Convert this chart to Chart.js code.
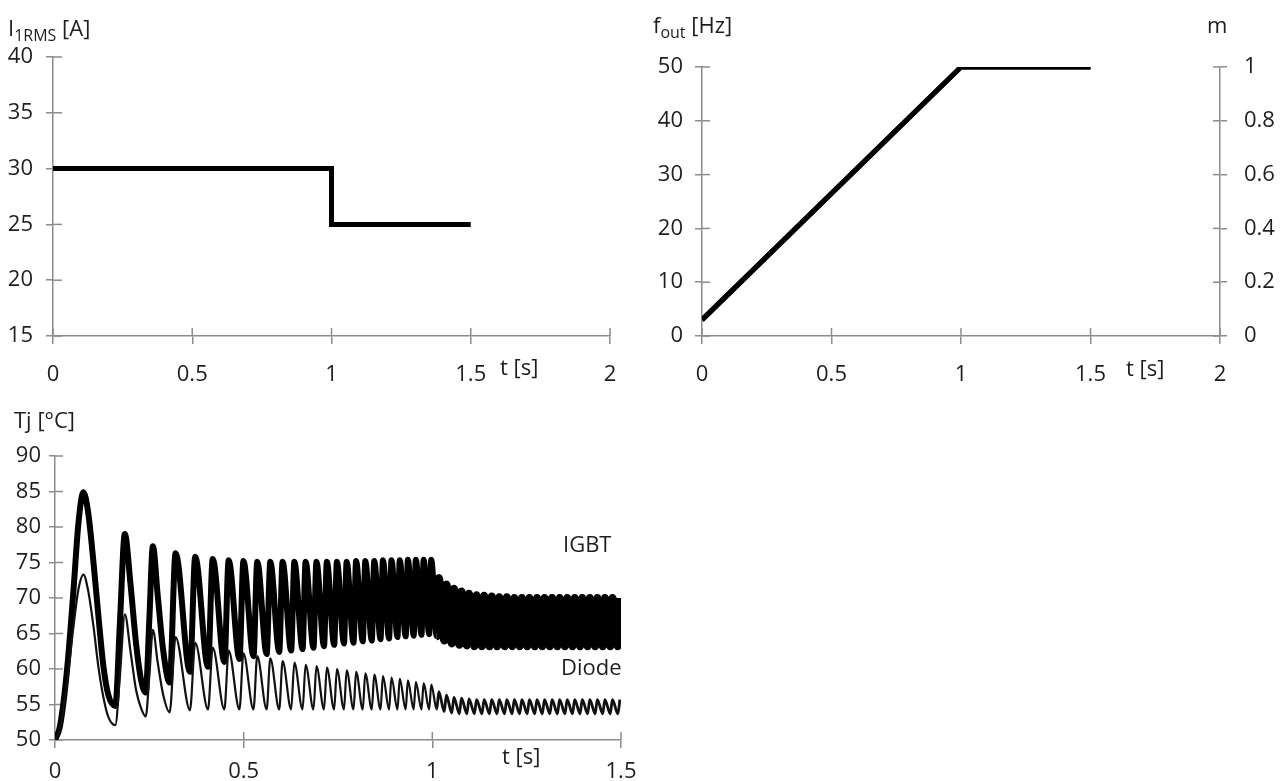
<!DOCTYPE html>
<html><head><meta charset="utf-8">
<script src="https://cdn.jsdelivr.net/npm/chart.js@4.4.1/dist/chart.umd.min.js"></script>
<style>
body{margin:0;background:#fff;width:1283px;height:781px;overflow:hidden;position:relative;font-family:"Open Sans",sans-serif;color:#1e1e1e}
canvas{position:absolute}
.lbl{position:absolute;font-size:22px;line-height:1;white-space:nowrap}
.lbl sub{font-size:16px;vertical-align:-5px;line-height:1}
</style></head><body>
<canvas id="c1" width="640" height="400" style="left:0;top:0;width:640px;height:400px"></canvas>
<canvas id="c2" width="643" height="400" style="left:640px;top:0;width:643px;height:400px"></canvas>
<canvas id="c3" width="660" height="381" style="left:0;top:400px;width:660px;height:381px"></canvas>
<div class="lbl" style="left:8px;top:16px">I<sub>1RMS</sub> [A]</div>
<div class="lbl" style="left:500px;top:355px">t [s]</div>
<div class="lbl" style="left:653px;top:13px">f<sub>out</sub> [Hz]</div>
<div class="lbl" style="left:1207px;top:13px">m</div>
<div class="lbl" style="left:1126px;top:356px">t [s]</div>
<div class="lbl" style="left:14px;top:408px">Tj [°C]</div>
<div class="lbl" style="left:502px;top:744px">t [s]</div>
<div class="lbl" style="left:563px;top:532px">IGBT</div>
<div class="lbl" style="left:561px;top:655px">Diode</div>
<script>
// ---- Panel 1: RMS current ----
const tCurrent = [0, 1, 1, 1.5];
const iRms = [30, 30, 25, 25];
// ---- Panel 2: output frequency and modulation index ----
const tFreq = [0, 1, 1.5];
const fOut = [3, 50, 50];
const mIndex = [0.06, 1, 1];
// ---- Panel 3: junction temperatures ----
const tTj = [
 0, 0.013, 0.031, 0.049, 0.062, 0.0754, 0.088, 0.102, 0.115, 0.128, 0.141, 0.1599,
 0.172, 0.1851, 0.200, 0.215, 0.228, 0.2404,
 0.250, 0.2594, 0.272, 0.287, 0.3038,
 0.3196, 0.3577, 0.3716, 0.4055, 0.4180, 0.4488, 0.4603, 0.4888, 0.4994, 0.5260, 0.5360,
 0.5610, 0.5705, 0.5942, 0.6032, 0.6258, 0.6344, 0.6560, 0.6642, 0.6850, 0.6929, 0.7129,
 0.7205, 0.7398, 0.7471, 0.7658, 0.7730, 0.7911, 0.7980, 0.8156, 0.8224, 0.8395, 0.8461,
 0.8627, 0.8691, 0.8854, 0.8917, 0.9076, 0.9137, 0.9293, 0.9352, 0.9505, 0.9563, 0.9712,
 0.9770, 0.9916, 0.9972,
 1.0116, 1.0172, 1.0316, 1.0372, 1.0516, 1.0572, 1.0716, 1.0772, 1.0916, 1.0972,
 1.1116, 1.1172, 1.1316, 1.1372, 1.1516, 1.1572, 1.1716, 1.1772, 1.1916, 1.1972,
 1.2116, 1.2172, 1.2316, 1.2372, 1.2516, 1.2572, 1.2716, 1.2772, 1.2916, 1.2972,
 1.3116, 1.3172, 1.3316, 1.3372, 1.3516, 1.3572, 1.3716, 1.3772, 1.3916, 1.3972,
 1.4116, 1.4172, 1.4316, 1.4372, 1.4516, 1.4572, 1.4716, 1.4772, 1.4916, 1.4972
];
const tjIgbt = [
 50.0, 51.9, 59.4, 71.1, 80.5, 84.9, 82.0, 75.0, 67.5, 60.5, 56.4, 54.8,
 66.5, 79.0, 72.0, 63.5, 58.5, 56.7,
 67.0, 77.3, 70.5, 62.5, 58.1,
 76.3, 59.6, 75.8, 60.3, 75.5, 61.0, 75.3, 61.4, 75.2, 61.8, 75.1,
 62.1, 75.1, 62.4, 75.1, 62.6, 75.1, 62.8, 75.1, 63.0, 75.1, 63.2,
 75.1, 63.4, 75.1, 63.6, 75.1, 63.7, 75.2, 63.9, 75.2, 64.0, 75.2,
 64.2, 75.3, 64.3, 75.3, 64.5, 75.3, 64.6, 75.4, 64.7, 75.4, 64.8,
 75.4, 64.9, 75.4,
 64.6, 72.8, 64.0, 71.9, 63.6, 71.3, 63.4, 70.9, 63.3, 70.6,
 63.2, 70.4, 63.2, 70.3, 63.2, 70.2, 63.2, 70.1, 63.2, 70.1,
 63.2, 70.0, 63.2, 70.0, 63.2, 70.0, 63.2, 70.0, 63.2, 70.0,
 63.2, 70.0, 63.2, 70.0, 63.2, 70.0, 63.2, 70.0, 63.2, 70.0,
 63.2, 70.0, 63.2, 70.0, 63.2, 70.0, 63.2, 70.0, 63.2, 70.0
];
const tjDiode = [
 50.0, 51.6, 57.6, 66.0, 71.2, 73.3, 71.0, 66.0, 60.3, 56.1, 53.3, 52.1,
 59.0, 67.7, 62.5, 57.0, 54.5, 53.3,
 59.0, 65.5, 61.0, 56.3, 53.9,
 64.5, 54.2, 63.7, 54.3, 63.0, 54.3, 62.6, 54.3, 62.2, 54.3, 61.8,
 54.3, 61.5, 54.3, 61.1, 54.3, 60.9, 54.3, 60.6, 54.3, 60.4, 54.3,
 60.2, 54.3, 60.0, 54.3, 59.8, 54.3, 59.6, 54.3, 59.4, 54.3, 59.2,
 54.3, 59.0, 54.3, 58.8, 54.3, 58.6, 54.3, 58.4, 54.3, 58.2, 54.3,
 58.0, 54.3, 57.8,
 54.3, 56.8, 54.0, 56.3, 53.8, 56.0, 53.7, 55.9, 53.7, 55.8,
 53.7, 55.7, 53.7, 55.7, 53.7, 55.7, 53.7, 55.7, 53.7, 55.7,
 53.7, 55.7, 53.7, 55.7, 53.7, 55.7, 53.7, 55.7, 53.7, 55.7,
 53.7, 55.7, 53.7, 55.7, 53.7, 55.7, 53.7, 55.7, 53.7, 55.7,
 53.7, 55.7, 53.7, 55.7, 53.7, 55.7, 53.7, 55.7, 53.7, 55.7
];

const AX = '#8c8c8c';
const TXT = '#1e1e1e';
const FONT = {family: "'Open Sans', sans-serif", size: 22};
const pts = (xs, ys) => xs.map((x, i) => ({x, y: ys[i]}));
const fmt = v => String(Math.round(v * 10) / 10);

const crossTicks = {
  id: 'crossTicks',
  beforeDatasetsDraw(chart, args, opts) {
    const ctx = chart.ctx, ca = chart.chartArea;
    ctx.save();
    ctx.strokeStyle = AX;
    ctx.lineWidth = 1.5;
    Object.values(chart.scales).forEach(s => {
      const len = opts.len ? opts.len[s.id] : 0;
      if (!len) return;
      s.ticks.forEach(t => {
        const p = s.getPixelForValue(t.value);
        ctx.beginPath();
        if (s.isHorizontal()) { ctx.moveTo(p, ca.bottom); ctx.lineTo(p, ca.bottom - len); }
        else if (s.position === 'left') { ctx.moveTo(ca.left, p); ctx.lineTo(ca.left + len, p); }
        else { ctx.moveTo(ca.right, p); ctx.lineTo(ca.right - len, p); }
        ctx.stroke();
      });
    });
    ctx.restore();
  }
};

function axis(opts) {
  return {
    type: 'linear', min: opts.min, max: opts.max, position: opts.position,
    ticks: {stepSize: opts.step, font: FONT, color: TXT, padding: opts.pad, maxRotation: 0, autoSkip: false, callback: fmt},
    grid: {drawOnChartArea: false, color: AX, lineWidth: 1.5, tickLength: opts.tick},
    border: {color: AX, width: 1.5},
    afterFit: s => { if (opts.w !== undefined) s.width = opts.w; if (opts.h !== undefined) s.height = opts.h; }
  };
}

const base = {
  responsive: false, animation: false, events: [],
  plugins: {legend: {display: false}, tooltip: {enabled: false}}
};

new Chart(document.getElementById('c1'), {
  type: 'line',
  data: {datasets: [{data: pts(tCurrent, iRms), borderColor: '#000', borderWidth: 5, pointRadius: 0, fill: false, tension: 0, borderJoinStyle: 'miter'}]},
  options: Object.assign({}, base, {
    layout: {padding: {top: 57, right: 30, left: 0, bottom: 0}},
    scales: {
      x: axis({min: 0, max: 2, step: 0.5, pad: 18, tick: 8, h: 64, position: 'bottom'}),
      y: axis({min: 15, max: 40, step: 5, pad: 13, tick: 7, w: 53, position: 'left'})
    },
    plugins: Object.assign({}, base.plugins, {crossTicks: {len: {x: 8, y: 9}}})
  }),
  plugins: [crossTicks]
});

new Chart(document.getElementById('c2'), {
  type: 'line',
  data: {datasets: [
    {data: pts(tFreq, fOut), yAxisID: 'y', borderColor: '#000', borderWidth: 5, pointRadius: 0, fill: false, tension: 0},
    {data: pts(tFreq, mIndex), yAxisID: 'y2', borderColor: '#000', borderWidth: 5, pointRadius: 0, fill: false, tension: 0}
  ]},
  options: Object.assign({}, base, {
    layout: {padding: {top: 67, right: 0, left: 0, bottom: 0}},
    scales: {
      x: axis({min: 0, max: 2, step: 0.5, pad: 18, tick: 8, h: 64, position: 'bottom'}),
      y: axis({min: 0, max: 50, step: 10, pad: 12, tick: 7, w: 62, position: 'left'}),
      y2: axis({min: 0, max: 1, step: 0.2, pad: 17, tick: 7, w: 63, position: 'right'})
    },
    plugins: Object.assign({}, base.plugins, {crossTicks: {len: {x: 8, y: 8, y2: 7}}})
  }),
  plugins: [crossTicks]
});

// Line weight per segment: the 50 Hz part after t = 1 s is drawn as a denser band
const afterStep = (wide, narrow) => ctx => (ctx.p0.parsed.x >= 1 ? wide : narrow);

new Chart(document.getElementById('c3'), {
  type: 'line',
  data: {datasets: [
    {data: pts(tTj, tjDiode), borderColor: '#111', borderWidth: 2.2, pointRadius: 0, fill: false, cubicInterpolationMode: 'monotone',
     segment: {borderWidth: afterStep(2.8, 2.2)}},
    {data: pts(tTj, tjIgbt), borderColor: '#000', borderWidth: 6, pointRadius: 0, fill: false, cubicInterpolationMode: 'monotone',
     segment: {borderWidth: afterStep(8, 6)}}
  ]},
  options: Object.assign({}, base, {
    layout: {padding: {top: 56, right: 39, left: 0, bottom: 0}},
    scales: {
      x: axis({min: 0, max: 1.5, step: 0.5, pad: 11, tick: 8, h: 41, position: 'bottom'}),
      y: axis({min: 50, max: 90, step: 5, pad: 8, tick: 6, w: 55, position: 'left'})
    },
    plugins: Object.assign({}, base.plugins, {crossTicks: {len: {x: 8, y: 8}}})
  }),
  plugins: [crossTicks]
});
</script>
</body></html>
